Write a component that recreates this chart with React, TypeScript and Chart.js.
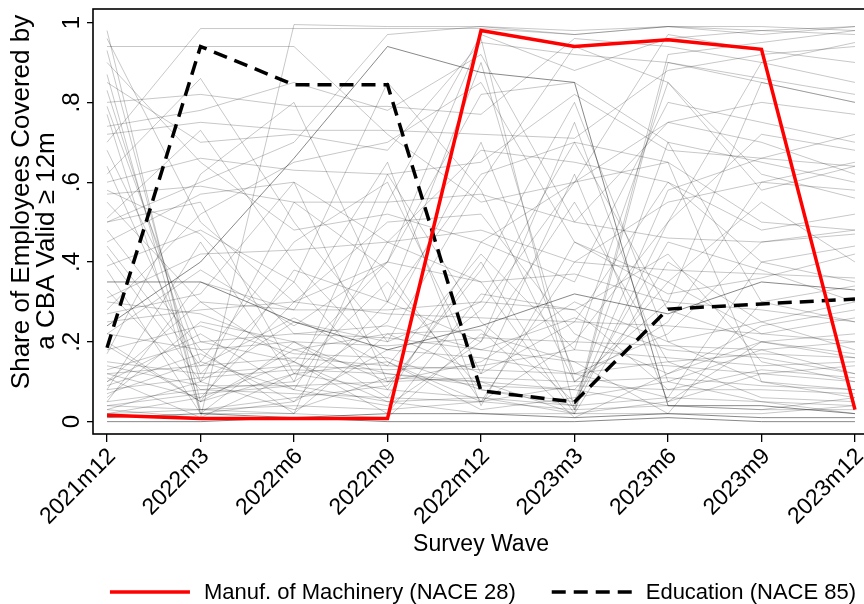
import { useEffect, useRef } from "react";
import { Chart, registerables } from "chart.js";

Chart.register(...registerables);

const waves = ["2021m12", "2022m3", "2022m6", "2022m9", "2022m12", "2023m3", "2023m6", "2023m9", "2023m12"];
const yTickValues = [0, 0.2, 0.4, 0.6, 0.8, 1];
const yTickLabels = ["0", ".2", ".4", ".6", ".8", "1"];
const yTitleLines = ["Share of Employees Covered by", "a CBA Valid \u2265 12m"];
const xTitle = "Survey Wave";

const machineryLabel = "Manuf. of Machinery (NACE 28)";
const machinery = [0.016, 0.008, 0.008, 0.008, 0.98, 0.94, 0.957, 0.933, 0.03];
const educationLabel = "Education (NACE 85)";
const education = [0.185, 0.94, 0.844, 0.844, 0.077, 0.049, 0.282, 0.295, 0.307];

const otherSectors: number[][] = [
  [0.70, 0.985, 0.985, 0.985, 0.985, 0.97, 0.99, 0.98, 0.99],
  [0.94, 0.94, 0.94, 0.72, 0.55, 0.60, 0.75, 0.70, 0.62],
  [0.24, 0.40, 0.66, 0.94, 0.875, 0.85, 0.04, 0.04, 0.02],
  [0.03, 0.01, 0.995, 0.99, 0.99, 0.97, 0.99, 0.99, 0.98],
  [0.80, 0.82, 0.79, 0.79, 0.77, 0.96, 0.94, 0.90, 0.85],
  [0.72, 0.75, 0.73, 0.73, 0.72, 0.71, 0.88, 0.92, 0.94],
  [0.98, 0.02, 0.05, 0.30, 0.90, 0.10, 0.30, 0.85, 0.80],
  [0.93, 0.05, 0.12, 0.08, 0.06, 0.02, 0.05, 0.20, 0.16],
  [0.87, 0.03, 0.02, 0.55, 0.97, 0.88, 0.96, 0.98, 0.97],
  [0.83, 0.10, 0.25, 0.20, 0.30, 0.70, 0.65, 0.50, 0.48],
  [0.79, 0.15, 0.08, 0.45, 0.35, 0.02, 0.90, 0.86, 0.82],
  [0.77, 0.02, 0.20, 0.10, 0.15, 0.30, 0.20, 0.25, 0.30],
  [0.62, 0.86, 0.50, 0.20, 0.60, 0.94, 0.85, 0.62, 0.56],
  [0.60, 0.66, 0.63, 0.62, 0.65, 0.82, 0.68, 0.66, 0.64],
  [0.57, 0.59, 0.55, 0.55, 0.57, 0.50, 0.46, 0.45, 0.47],
  [0.51, 0.73, 0.40, 0.15, 0.05, 0.40, 0.55, 0.60, 0.58],
  [0.45, 0.57, 0.60, 0.45, 0.68, 0.65, 0.60, 0.40, 0.35],
  [0.39, 0.48, 0.35, 0.08, 0.40, 0.03, 0.92, 0.95, 0.98],
  [0.35, 0.35, 0.25, 0.18, 0.24, 0.32, 0.27, 0.35, 0.33],
  [0.31, 0.42, 0.43, 0.45, 0.48, 0.40, 0.38, 0.37, 0.36],
  [0.25, 0.28, 0.30, 0.27, 0.26, 0.25, 0.24, 0.22, 0.20],
  [0.17, 0.62, 0.80, 0.30, 0.20, 0.75, 0.10, 0.18, 0.12],
  [0.13, 0.20, 0.22, 0.21, 0.18, 0.15, 0.14, 0.12, 0.10],
  [0.11, 0.01, 0.12, 0.15, 0.03, 0.06, 0.10, 0.05, 0.02],
  [0.08, 0.45, 0.10, 0.62, 0.25, 0.05, 0.70, 0.30, 0.25],
  [0.05, 0.08, 0.07, 0.06, 0.05, 0.09, 0.08, 0.08, 0.07],
  [0.02, 0.03, 0.04, 0.03, 0.05, 0.03, 0.04, 0.03, 0.03],
  [0.90, 0.65, 0.48, 0.52, 0.45, 0.60, 0.97, 0.93, 0.90],
  [0.64, 0.12, 0.35, 0.85, 0.58, 0.10, 0.25, 0.60, 0.65],
  [0.55, 0.30, 0.28, 0.28, 0.30, 0.28, 0.42, 0.15, 0.10],
  [0.48, 0.18, 0.02, 0.22, 0.12, 0.62, 0.05, 0.12, 0.14],
  [0.42, 0.10, 0.55, 0.38, 0.05, 0.20, 0.50, 0.72, 0.68],
  [0.28, 0.52, 0.65, 0.70, 0.85, 0.45, 0.35, 0.55, 0.40],
  [0.20, 0.05, 0.18, 0.12, 0.10, 0.08, 0.35, 0.22, 0.26],
  [0.15, 0.12, 0.14, 0.13, 0.14, 0.18, 0.16, 0.14, 0.15],
  [0.10, 0.22, 0.08, 0.04, 0.20, 0.55, 0.15, 0.06, 0.05],
  [0.07, 0.15, 0.45, 0.60, 0.12, 0.25, 0.60, 0.48, 0.52],
  [0.04, 0.03, 0.06, 0.09, 0.38, 0.80, 0.20, 0.10, 0.08],
  [0.01, 0.02, 0.01, 0.02, 0.02, 0.01, 0.02, 0.01, 0.01],
  [0.68, 0.20, 0.15, 0.05, 0.02, 0.02, 0.40, 0.25, 0.18],
  [0.33, 0.08, 0.10, 0.25, 0.70, 0.12, 0.06, 0.40, 0.44],
  [0.22, 0.38, 0.24, 0.40, 0.35, 0.37, 0.30, 0.28, 0.25],
  [0.18, 0.24, 0.17, 0.16, 0.08, 0.04, 0.58, 0.66, 0.72],
  [0.12, 0.06, 0.30, 0.50, 0.52, 0.22, 0.12, 0.20, 0.22],
  [0.06, 0.25, 0.20, 0.06, 0.45, 0.35, 0.80, 0.75, 0.70],
  [0.03, 0.10, 0.03, 0.11, 0.10, 0.02, 0.02, 0.30, 0.34],
  [0.85, 0.70, 0.72, 0.68, 0.95, 0.92, 0.90, 0.85, 0.80],
  [0.50, 0.55, 0.12, 0.35, 0.08, 0.05, 0.45, 0.38, 0.30],
  [0.38, 0.02, 0.02, 0.01, 0.22, 0.15, 0.02, 0.02, 0.04],
  [0.27, 0.32, 0.60, 0.10, 0.28, 0.60, 0.65, 0.10, 0.06],
  [0.19, 0.05, 0.38, 0.30, 0.62, 0.70, 0.28, 0.20, 0.17],
  [0.09, 0.17, 0.05, 0.18, 0.16, 0.12, 0.22, 0.45, 0.48],
  [0.14, 0.09, 0.09, 0.10, 0.11, 0.10, 0.11, 0.09, 0.08],
  [0.58, 0.47, 0.22, 0.24, 0.18, 0.26, 0.18, 0.16, 0.12],
  [0.74, 0.78, 0.85, 0.78, 0.92, 0.50, 0.75, 0.80, 0.77],
  [0.96, 0.50, 0.30, 0.40, 0.82, 0.85, 0.70, 0.65, 0.60],
  [0.30, 0.27, 0.18, 0.22, 0.23, 0.01, 0.12, 0.24, 0.28],
  [0.05, 0.35, 0.28, 0.65, 0.04, 0.45, 0.32, 0.36, 0.42],
  [0.02, 0.06, 0.15, 0.02, 0.32, 0.28, 0.08, 0.13, 0.11],
  [0.44, 0.14, 0.26, 0.14, 0.42, 0.18, 0.85, 0.58, 0.64],
  [0.04, 0.07, 0.09, 0.05, 0.06, 0.04, 0.06, 0.05, 0.04],
  [0.00, 0.00, 0.01, 0.00, 0.00, 0.00, 0.01, 0.00, 0.00],
  [0.12, 0.14, 0.16, 0.14, 0.13, 0.12, 0.15, 0.17, 0.16],
  [0.08, 0.11, 0.13, 0.12, 0.09, 0.08, 0.04, 0.03, 0.06],
  [0.22, 0.18, 0.20, 0.19, 0.21, 0.20, 0.19, 0.18, 0.20],
  [0.50, 0.60, 0.70, 0.97, 0.99, 0.98, 0.99, 0.97, 0.99],
  [0.10, 0.30, 0.15, 0.40, 0.96, 0.03, 0.50, 0.90, 0.95],
];

const DARK_LINES = new Set([2, 18, 38, 61]);
const FONT = "'Liberation Sans', Arial, Helvetica, sans-serif";

const toPoints = (vals: number[]) => vals.map((v, i) => ({ x: i, y: v }));

const framePlugin = {
  id: "frame",
  afterDatasetsDraw(chart: any) {
    const { ctx, chartArea: a } = chart;
    ctx.save();
    ctx.strokeStyle = "#000";
    ctx.lineWidth = 1.6;
    ctx.strokeRect(a.left, a.top, a.right - a.left, a.bottom - a.top);
    ctx.restore();
  },
};

const yTitlePlugin = {
  id: "yTitle",
  afterDraw(chart: any) {
    const { ctx, chartArea: a } = chart;
    ctx.save();
    ctx.font = `26px ${FONT}`;
    ctx.fillStyle = "#000";
    ctx.textAlign = "center";
    ctx.textBaseline = "middle";
    const pos = [
      { x: a.left - 71, y: a.top + 193 },
      { x: a.left - 46, y: a.top + 232 },
    ];
    yTitleLines.forEach((line, i) => {
      ctx.save();
      ctx.translate(pos[i].x, pos[i].y);
      ctx.rotate(-Math.PI / 2);
      ctx.fillText(line, 0, 0);
      ctx.restore();
    });
    ctx.restore();
  },
};

const legendPlugin = {
  id: "customLegend",
  afterDraw(chart: any) {
    const { ctx, chartArea: a } = chart;
    const items = chart.data.datasets.slice(0, 2);
    const sampleW = 80;
    const gap = 14;
    const itemGap = 36;
    ctx.save();
    ctx.font = `22px ${FONT}`;
    const widths = items.map((d: any) => ctx.measureText(d.label).width);
    const total = widths.reduce((s: number, w: number) => s + sampleW + gap + w, 0) + itemGap * (items.length - 1);
    let x = (a.left + a.right) / 2 + 2 - total / 2;
    const y = 592;
    items.forEach((d: any, i: number) => {
      ctx.beginPath();
      ctx.strokeStyle = d.borderColor;
      ctx.lineWidth = d.borderWidth;
      ctx.setLineDash(d.borderDash || []);
      ctx.moveTo(x, y);
      ctx.lineTo(x + sampleW, y);
      ctx.stroke();
      ctx.setLineDash([]);
      ctx.fillStyle = "#000";
      ctx.textAlign = "left";
      ctx.textBaseline = "middle";
      ctx.fillText(d.label, x + sampleW + gap, y + 1);
      x += sampleW + gap + widths[i] + itemGap;
    });
    ctx.restore();
  },
};

export default function App() {
  const canvasRef = useRef<HTMLCanvasElement | null>(null);

  useEffect(() => {
    const canvas = canvasRef.current;
    if (!canvas) return;
    Chart.defaults.font.family = FONT;
    Chart.defaults.color = "#000";

    const grayDatasets = otherSectors.map((vals, i) => ({
      label: `sector ${i + 1}`,
      data: toPoints(vals),
      borderColor: DARK_LINES.has(i) ? "rgba(40,40,40,0.55)" : "rgba(0,0,0,0.22)",
      borderWidth: 1,
      pointRadius: 0,
      tension: 0,
      fill: false,
      order: 2,
    }));

    const chart = new Chart(canvas, {
      type: "line",
      data: {
        datasets: [
          {
            label: machineryLabel,
            data: toPoints(machinery),
            borderColor: "#ff0000",
            borderWidth: 3.5,
            pointRadius: 0,
            tension: 0,
            fill: false,
            order: 0,
          },
          {
            label: educationLabel,
            data: toPoints(education),
            borderColor: "#000000",
            borderWidth: 3.5,
            borderDash: [14, 8],
            pointRadius: 0,
            tension: 0,
            fill: false,
            order: 1,
          },
          ...grayDatasets,
        ],
      },
      options: {
        responsive: false,
        animation: false,
        devicePixelRatio: 1,
        layout: { padding: { top: 9, left: 0, right: 11, bottom: 48 } },
        plugins: {
          legend: { display: false },
          tooltip: { enabled: false },
        },
        scales: {
          x: {
            type: "linear",
            min: -0.15,
            max: 8.15,
            afterBuildTicks: (scale: any) => {
              scale.ticks = waves.map((_, i) => ({ value: i }));
            },
            afterFit: (scale: any) => {
              scale.height = 122;
              scale.paddingLeft = 0;
              scale.paddingRight = 0;
            },
            grid: {
              display: true,
              drawOnChartArea: false,
              drawTicks: true,
              tickLength: 8,
              color: "#000",
              lineWidth: 1.3,
            },
            border: { display: false },
            ticks: {
              autoSkip: false,
              minRotation: 45,
              maxRotation: 45,
              padding: 1,
              labelOffset: 5,
              font: { size: 23 },
              color: "#000",
              callback: (value: any) => waves[Math.round(Number(value))] ?? "",
            },
            title: {
              display: true,
              text: xTitle,
              font: { size: 23, lineHeight: 1 },
              color: "#000",
              padding: 0,
            },
          },
          y: {
            type: "linear",
            min: -0.031,
            max: 1.034,
            afterBuildTicks: (scale: any) => {
              scale.ticks = yTickValues.map((v) => ({ value: v }));
            },
            afterFit: (scale: any) => {
              scale.width = 93;
              scale.paddingTop = 0;
              scale.paddingBottom = 0;
            },
            grid: {
              display: true,
              drawOnChartArea: false,
              drawTicks: true,
              tickLength: 6,
              color: "#000",
              lineWidth: 1.3,
            },
            border: { display: false },
            ticks: {
              minRotation: 90,
              maxRotation: 90,
              crossAlign: "center",
              padding: 5,
              font: { size: 24 },
              color: "#000",
              callback: (value: any) => {
                const idx = yTickValues.findIndex((v) => Math.abs(v - Number(value)) < 1e-6);
                return idx >= 0 ? yTickLabels[idx] : "";
              },
            },
          },
        },
      },
      plugins: [framePlugin, yTitlePlugin, legendPlugin],
    } as any);

    return () => chart.destroy();
  }, []);

  return (
    <div
      style={{
        position: "absolute",
        left: 0,
        top: 0,
        width: 864,
        height: 604,
        overflow: "hidden",
        background: "#fff",
      }}
    >
      <canvas ref={canvasRef} width={880} height={604} style={{ width: 880, height: 604, display: "block" }} />
    </div>
  );
}
